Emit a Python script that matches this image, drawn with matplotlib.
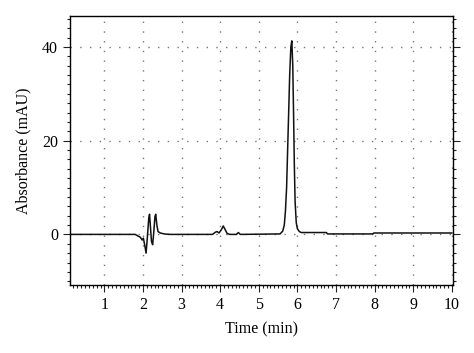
import matplotlib
matplotlib.use("Agg")
import matplotlib.pyplot as plt
from matplotlib.ticker import MultipleLocator

plt.rcParams['font.family'] = ['Liberation Serif', 'DejaVu Serif']

# chromatogram trace (time in min, absorbance in mAU)
time_min = [0.10, 1.80, 1.86, 1.93, 1.98, 2.01, 2.05, 2.08, 2.11, 2.15, 2.17, 2.19,
            2.22, 2.25, 2.28, 2.31, 2.33, 2.36, 2.39, 2.45, 2.55, 2.70,
            3.80, 3.88, 3.92, 3.97, 4.03, 4.08, 4.13, 4.18, 4.25,
            4.42, 4.47, 4.52,
            5.55, 5.62, 5.66, 5.69, 5.72, 5.76, 5.80, 5.83, 5.855, 5.88, 5.90, 5.92,
            5.94, 5.97, 6.00, 6.05, 6.10,
            6.75, 6.78, 7.95, 7.98, 10.0]
absorb = [0.0, 0.0, -0.3, -0.6, -1.2, -0.8, -2.5, -4.0, -1.0, 3.5, 4.3, 2.0,
          -1.5, -2.2, 0.5, 3.8, 4.3, 2.0, 0.6, 0.3, 0.1, 0.0,
          0.0, 0.5, 0.6, 0.3, 1.0, 1.8, 1.0, 0.2, 0.0,
          0.0, 0.4, 0.0,
          0.1, 0.7, 2.0, 5.0, 10.0, 22.0, 34.0, 40.0, 41.3, 36.0, 26.0, 15.0,
          7.0, 2.5, 1.2, 0.6, 0.4,
          0.4, 0.1, 0.1, 0.3, 0.3]

x_ticks = [1, 2, 3, 4, 5, 6, 7, 8, 9, 10]
y_ticks = [0, 20, 40]

fig = plt.figure(figsize=(4.74, 3.53), dpi=100)
ax = fig.add_axes([0.1477, 0.1926, 0.808, 0.762])

ax.plot(time_min, absorb, color='#111111', lw=1.1)

ax.set_xlim(0.11, 10.03)
ax.set_ylim(-10.8, 46.6)
ax.set_xticks(x_ticks)
ax.set_yticks(y_ticks)
ax.xaxis.set_minor_locator(MultipleLocator(0.1))
ax.yaxis.set_minor_locator(MultipleLocator(2))

ax.grid(True, which='major', color='#777777', lw=1.0, linestyle=(0, (1, 6)))

ax.tick_params(which='both', direction='out', top=False, right=True,
               labelsize=11.5, width=0.8, color='#222222')
ax.tick_params(which='major', length=5)
ax.tick_params(which='minor', length=2.5)
for s in ax.spines.values():
    s.set_linewidth(1.0)

ax.set_xlabel('Time (min)', fontsize=11.5, labelpad=6)
ax.set_ylabel('Absorbance (mAU)', fontsize=11.5, labelpad=8)

fig.savefig('out.png', dpi=100)
